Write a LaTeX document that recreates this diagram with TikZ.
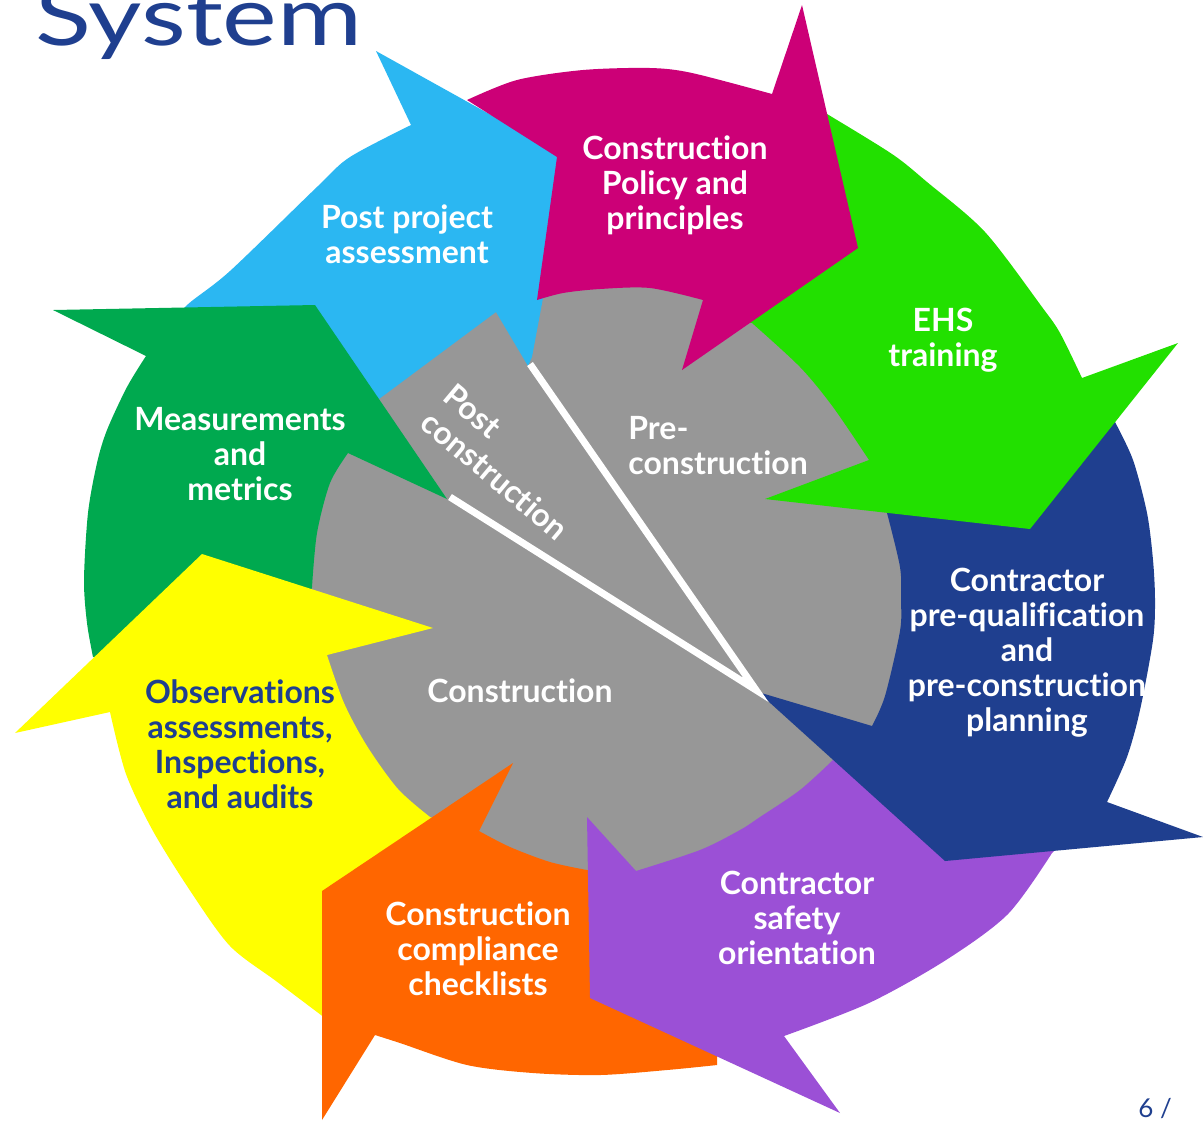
\documentclass[tikz,border=0pt]{standalone}
\usepackage{fontspec}
\setmainfont{Lato}[Ligatures=NoCommon]
\usepackage{graphicx}
\definecolor{cBlue}{HTML}{2BB7F2}
\definecolor{cMag}{HTML}{CC0077}
\definecolor{cEhs}{HTML}{22E000}
\definecolor{cNavy}{HTML}{1F3F8F}
\definecolor{cPurple}{HTML}{9B50D6}
\definecolor{cOrange}{HTML}{FF6600}
\definecolor{cYellow}{HTML}{FFFF00}
\definecolor{cGreen}{HTML}{00A94F}
\definecolor{cGray}{HTML}{979797}
\begin{document}
\begin{tikzpicture}[x=0.5pt,y=-0.5pt,
  lab/.style={text=white,font=\bfseries\fontsize{16}{17.5}\selectfont,align=center,inner sep=0pt},
  sep/.style={draw=white,line width=3.5pt}]
\useasboundingbox (0,0) rectangle (1203,1121);
% gray centre
\fill[cGray] (612,588) circle[radius=310];
% blue: post project assessment
\fill[cBlue] (376,51) -- (572,160) -- (550,296) -- (543,298) -- (532,357) -- (528,366) -- (496,312) -- (379,399) -- (300,330) -- (170,330)
  -- plot[smooth] coordinates {(170,330) (186,306) (230,271) (318,186) (350,157) (411,125)} -- cycle;
% green: measurements
\fill[cGreen] (53,310) -- (315,305) -- (447,499) -- (348,453)
  -- plot[smooth] coordinates {(348,453) (330,483) (317,533) (312,587)} -- (300,640) -- (200,660) -- (93,657)
  -- plot[smooth] coordinates {(93,657) (87,623) (84,580) (88,513) (97,463) (107,430) (127,387) (146,356)} -- cycle;
% yellow: observations
\fill[cYellow] (15,733) -- (202,554) -- (433,628) -- (327,655)
  -- plot[smooth] coordinates {(327,655) (344,703) (367,746) (398,789) (430,817)} -- (470,830) -- (340,1030) -- (325,1018)
  -- plot[smooth] coordinates {(325,1018) (276,981) (230,946) (191,892) (153,831) (126,774) (110,712)} -- cycle;
% orange: compliance checklists
\fill[cOrange] (322,891) -- (513,763) -- (479,831)
  -- plot[smooth] coordinates {(479,831) (510,847) (550,862) (587,870)} -- (640,880) -- (717,1055) -- (717,1065)
  -- plot[smooth] coordinates {(717,1065) (667,1070) (600,1075) (533,1073) (467,1065) (400,1043) (375,1035)} -- (322,1120) -- cycle;
% purple: safety orientation
\fill[cPurple] (587,817) -- (636,871)
  -- plot[smooth] coordinates {(636,871) (700,850) (740,830) (760,817) (800,790) (833,760)} -- (862,740) -- (1060,845) -- (1052,853)
  -- plot[smooth] coordinates {(1052,853) (1008,914) (946,960) (869,1003) (784,1036)} -- (840,1113) -- (590,998) -- cycle;
% navy: contractor pre-qualification
\fill[cNavy] (1100,400) -- (1115,422)
  -- plot[smooth] coordinates {(1115,422) (1133,460) (1147,513) (1153,560) (1155,600) (1153,640) (1140,710) (1127,757) (1107,802)}
  -- (1203,837) -- (945,861) -- (758,692) -- (872,726)
  -- plot[smooth] coordinates {(872,726) (885,696) (900,631) (901,600) (900,567) (887,513)} -- (880,478) -- cycle;
% bright green: EHS training
\fill[cEhs] (810,100) -- (827,114)
  -- plot[smooth] coordinates {(827,114) (892,154) (927,182) (985,232) (1042,307) (1060,333) (1082,378)}
  -- (1178,343) -- (1030,529) -- (765,499) -- (869,460)
  -- plot[smooth] coordinates {(869,460) (833,407) (800,367) (752,323)} -- (730,320) -- cycle;
% magenta: policy and principles
\fill[cMag] (467,100)
  -- plot[smooth] coordinates {(467,100) (517,80) (583,70) (650,68) (692,73) (772,94)}
  -- (802,5) -- (858,248) -- (682,370) -- (703,300)
  -- plot[smooth] coordinates {(703,300) (650,288) (600,289) (563,293) (537,300)} -- (557,157) -- cycle;
% separators
\coordinate (hub) at (756,690);
\coordinate (sepA) at (530,364);
\coordinate (sepB) at (450,497);
\draw[sep] (sepA) -- (hub) -- (sepB);
% labels
\node[lab] (policy) at (675,185) {Construction\\Policy and\\principles};
\node[lab] (post) at (407,234) {Post project\\assessment};
\node[lab] (ehs) at (943,340) {EHS\\training};
\node[lab] (meas) at (240,454) {Measurements\\and\\metrics};
\node[lab,align=left,anchor=west] (pre) at (628,446) {Pre-\\construction};
\node[lab,align=left,rotate=-40] (postc) at (506,462) {Post\\construction};
\node[lab] (constr) at (520,691) {Construction};
\node[lab] (contr) at (1027,653) {Contractor\\pre-qualification\\and\\pre-construction\\planning};
\node[lab,text=cNavy] (obs) at (240,744) {Observations\\assessments,\\Inspections,\\and audits};
\node[lab] (safety) at (797,918) {Contractor\\safety\\orientation};
\node[lab] (check) at (478,949) {Construction\\compliance\\checklists};
\node[anchor=base west,inner sep=0pt,text=cNavy] (title) at (35,45)
  {\resizebox{163.5pt}{\height}{\fontsize{41}{45}\selectfont System}};
\node[text=cNavy,inner sep=0pt,font=\fontsize{13}{15}\selectfont] (page) at (1155,1108) {6 /};
\end{tikzpicture}
\end{document}
